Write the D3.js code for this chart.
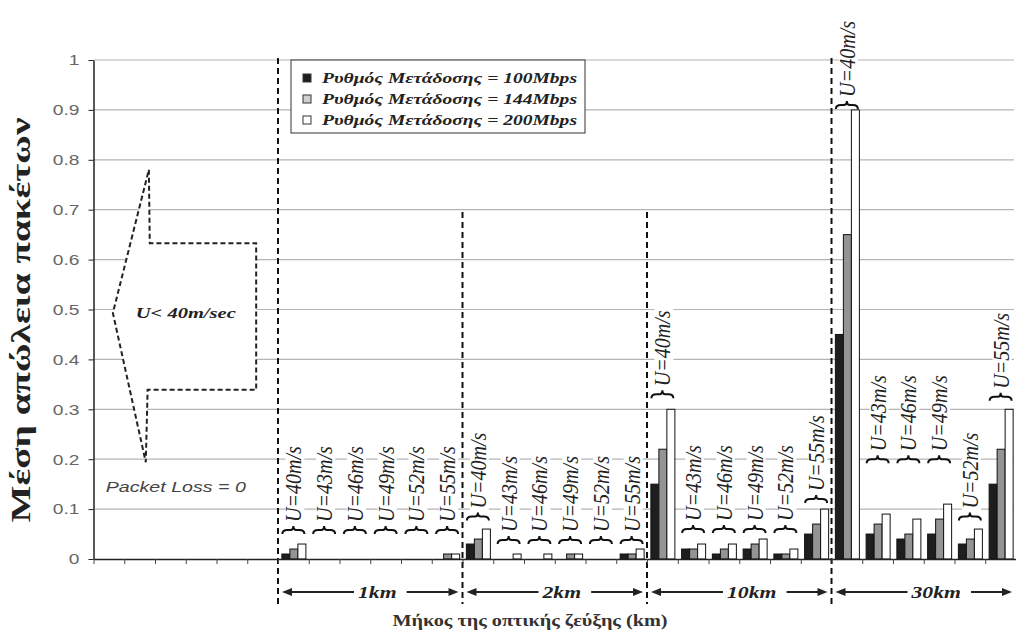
<!DOCTYPE html>
<html><head><meta charset="utf-8">
<script src="https://cdn.jsdelivr.net/npm/d3@7"></script>
<style>
html,body{margin:0;padding:0;background:#fff;}
svg{display:block;}
.serif{font-family:"Liberation Serif","DejaVu Serif","Times New Roman",Times,serif;}
.sans{font-family:"Liberation Sans",Arial,Helvetica,sans-serif;}
</style>
</head><body>
<svg id="chart" width="1016" height="637"></svg>
<script>
// ---- data ----
const lengths = ["1km", "2km", "10km", "30km"];
const speeds = ["U=40m/s", "U=43m/s", "U=46m/s", "U=49m/s", "U=52m/s", "U=55m/s"];
const seriesNames = ["Ρυθμός Μετάδοσης = 100Mbps", "Ρυθμός Μετάδοσης = 144Mbps", "Ρυθμός Μετάδοσης = 200Mbps"];
// values per length group, per speed (1km, 2km, 10km, 30km)
const rate100 = [0.01,0,0,0,0,0,  0.03,0,0,0,0,0.01,  0.15,0.02,0.01,0.02,0.01,0.05,  0.45,0.05,0.04,0.05,0.03,0.15];
const rate144 = [0.02,0,0,0,0,0.01,  0.04,0,0,0.01,0,0.01,  0.22,0.02,0.02,0.03,0.01,0.07,  0.65,0.07,0.05,0.08,0.04,0.22];
const rate200 = [0.03,0,0,0,0,0.01,  0.06,0.01,0.01,0.01,0,0.02,  0.30,0.03,0.03,0.04,0.02,0.10,  0.90,0.09,0.08,0.11,0.06,0.30];
// level (in loss units) of each speed bracket label
const labelLevel = [0.058,0.058,0.058,0.058,0.058,0.058,  0.085,0.038,0.038,0.038,0.038,0.038,  0.33,0.06,0.06,0.06,0.06,0.12,  0.91,0.2,0.2,0.2,0.085,0.325];
const zeroRegion = ["z1","z2","z3","z4","z5","z6"]; // U<40 m/sec region, packet loss = 0
const yTicks = [0,0.1,0.2,0.3,0.4,0.5,0.6,0.7,0.8,0.9,1];
const yTickLabels = ["0","0.1","0.2","0.3","0.4","0.5","0.6","0.7","0.8","0.9","1"];
const yTitle = "Μέση απώλεια πακέτων";
const xTitle = "Μήκος της οπτικής ζεύξης (km)";
const zeroNote = "Packet Loss = 0";
const arrowNote = "U< 40m/sec";
// arrow outline in (category units, loss units)
const arrowShape = [[1.80,0.78],[1.83,0.633],[5.29,0.633],[5.29,0.339],[1.76,0.339],[1.70,0.194],[0.63,0.493]];

// ---- build ----
const cats = zeroRegion.concat(lengths.flatMap(l => speeds.map(s => l + "|" + s)));
const rows = [];
lengths.forEach((l, gi) => speeds.forEach((s, si) => {
  const i = gi * 6 + si;
  rows.push({key: l + "|" + s, len: l, speed: s, vals: [rate100[i], rate144[i], rate200[i]], level: labelLevel[i]});
}));

const svg = d3.select("#chart");
const X0 = 93.5, X1 = 1016, Y0 = 559, Y1 = 60;
const x = d3.scaleBand().domain(cats).range([X0, X1]).paddingInner(0).paddingOuter(0);
const xi = d3.scaleLinear().domain([0, cats.length]).range([X0, X1]);
const y = d3.scaleLinear().domain([0, 1]).range([Y0, Y1]);
const bw = x.bandwidth();
const xs = d3.scaleBand().domain([0,1,2]).range([bw/2 - 11.5, bw/2 + 12.5]);
const SX = 1.28;

// gridlines
svg.append("g").selectAll("line").data(yTicks.filter(d => d > 0)).join("line")
  .attr("x1", X0).attr("x2", 1014).attr("y1", d => y(d)).attr("y2", d => y(d))
  .attr("stroke", "#b4b4b4").attr("stroke-width", 1.2);

// U<40 arrow annotation
svg.append("path")
  .attr("d", d3.line().x(d => xi(d[0])).y(d => y(d[1])).curve(d3.curveLinearClosed)(arrowShape))
  .attr("fill", "#fff").attr("stroke", "#222").attr("stroke-width", 2).attr("stroke-dasharray", "5,3");
svg.append("text").text(arrowNote).attr("class", "serif")
  .attr("x", xi(3.0)).attr("y", y(0.493) + 5).attr("text-anchor", "middle")
  .attr("font-style", "italic").attr("font-weight", "bold").attr("font-size", 15)
  .attr("textLength", 100).attr("lengthAdjust", "spacingAndGlyphs").attr("fill", "#222");
svg.append("text").text(zeroNote).attr("class", "sans")
  .attr("x", xi(0.4)).attr("y", y(0.135))
  .attr("font-style", "italic").attr("font-size", 15)
  .attr("textLength", 140).attr("lengthAdjust", "spacingAndGlyphs").attr("fill", "#444");

// bars
const fills = ["#1e1e1e", "#949494", "#ffffff"];
const barG = svg.append("g");
rows.forEach(r => {
  r.vals.forEach((v, k) => {
    if (v <= 0) return;
    barG.append("rect")
      .attr("x", x(r.key) + xs(k)).attr("width", xs.bandwidth())
      .attr("y", y(v)).attr("height", y(0) - y(v))
      .attr("fill", fills[k]).attr("stroke", "#111").attr("stroke-width", 1);
  });
});

// speed labels with braces
const labG = svg.append("g");
rows.forEach(r => {
  const cx = x(r.key) + bw / 2;
  const by = y(r.level);
  const t = labG.append("text").text(r.speed).attr("class", "serif")
    .attr("transform", `translate(${cx + 8},${by - 8}) scale(1.15,1) rotate(-90)`)
    .attr("font-style", "italic").attr("font-size", 20)
    .attr("textLength", 76).attr("lengthAdjust", "spacingAndGlyphs").attr("fill", "#222");
  const len = 76;
  labG.insert("rect", "text")
    .attr("x", cx - 8).attr("y", by - 10 - len).attr("width", 19).attr("height", len + 6)
    .attr("fill", "#fff");
  labG.append("path")
    .attr("d", `M${cx-11},${by+4} Q${cx-11},${by} ${cx-6},${by} L${cx-3},${by} Q${cx},${by} ${cx},${by-4} Q${cx},${by} ${cx+3},${by} L${cx+6},${by} Q${cx+11},${by} ${cx+11},${by+4}`)
    .attr("fill", "none").attr("stroke", "#111").attr("stroke-width", 2);
});

// dashed separators
const seps = [{i: 6, top: 58}, {i: 12, top: 212}, {i: 18, top: 212}, {i: 24, top: 58}];
svg.append("g").selectAll("line").data(seps).join("line")
  .attr("x1", d => xi(d.i)).attr("x2", d => xi(d.i)).attr("y1", d => d.top).attr("y2", 604)
  .attr("stroke", "#111").attr("stroke-width", 2).attr("stroke-dasharray", "6,4");

// axes
const yAxis = svg.append("g").attr("transform", `translate(${X0},0)`)
  .call(d3.axisLeft(y).tickValues(yTicks).tickSize(5).tickSizeOuter(0).tickFormat((d, i) => yTickLabels[i]));
yAxis.attr("font-family", null);
yAxis.select(".domain").attr("stroke", "#222").attr("stroke-width", 1.5);
yAxis.selectAll(".tick line").attr("stroke", "#222");
yAxis.selectAll("text").attr("class", "sans").attr("font-size", 15).attr("fill", "#666")
  .attr("x", -11).attr("transform", `scale(${SX},1)`);

const xAxis = svg.append("g").attr("transform", `translate(0,${Y0})`)
  .call(d3.axisBottom(xi).tickValues(d3.range(0, cats.length + 1)).tickSize(5).tickSizeOuter(0).tickFormat(""));
xAxis.select(".domain").attr("stroke", "#222").attr("stroke-width", 1.5);
xAxis.selectAll(".tick line").attr("stroke", "#444");

// group arrows
const ay = 592;
const agr = svg.append("g");
lengths.forEach((l, gi) => {
  const gs = xi(6 + gi * 6), ge = xi(12 + gi * 6);
  const ts = gs + 80;
  const t = agr.append("text").text(l).attr("class", "serif")
    .attr("transform", `translate(${ts},${ay + 6}) scale(${SX},1)`)
    .attr("font-style", "italic").attr("font-weight", "bold").attr("font-size", 17).attr("fill", "#222");
  const te = ts + t.node().getComputedTextLength() * SX;
  agr.append("line").attr("x1", gs + 8).attr("x2", ts - 4).attr("y1", ay).attr("y2", ay).attr("stroke", "#222").attr("stroke-width", 2);
  agr.append("line").attr("x1", te + 10).attr("x2", ge - 8).attr("y1", ay).attr("y2", ay).attr("stroke", "#222").attr("stroke-width", 2);
  agr.append("path").attr("d", `M${gs+4},${ay} L${gs+14},${ay-4} L${gs+14},${ay+4} Z`).attr("fill", "#222");
  agr.append("path").attr("d", `M${ge-4},${ay} L${ge-14},${ay-4} L${ge-14},${ay+4} Z`).attr("fill", "#222");
});

// titles
svg.append("text").text(yTitle).attr("class", "serif")
  .attr("transform", `translate(30,320) scale(1.15,1) rotate(-90)`)
  .attr("text-anchor", "middle").attr("font-weight", "bold").attr("font-size", 24)
  .attr("textLength", 405).attr("lengthAdjust", "spacingAndGlyphs").attr("fill", "#222");
svg.append("text").text(xTitle).attr("class", "serif")
  .attr("x", 530).attr("y", 626).attr("text-anchor", "middle")
  .attr("font-weight", "bold").attr("font-size", 16)
  .attr("textLength", 275).attr("lengthAdjust", "spacingAndGlyphs").attr("fill", "#333");

// legend
const lg = svg.append("g");
lg.append("rect").attr("x", 291).attr("y", 60).attr("width", 294).attr("height", 73)
  .attr("fill", "#fff").attr("stroke", "#333").attr("stroke-width", 1);
const legFills = ["#1e1e1e", "#cfcfcf", "#ffffff"];
seriesNames.forEach((n, k) => {
  const ry = 78 + k * 21;
  lg.append("rect").attr("x", 303).attr("y", ry - 4).attr("width", 8).attr("height", 8)
    .attr("fill", legFills[k]).attr("stroke", "#333").attr("stroke-width", 1);
  lg.append("text").text(n).attr("class", "serif").attr("x", 322).attr("y", ry + 5)
    .attr("font-style", "italic").attr("font-weight", "bold").attr("font-size", 15)
    .attr("textLength", 255).attr("lengthAdjust", "spacingAndGlyphs").attr("fill", "#222");
});
</script>
</body></html>
